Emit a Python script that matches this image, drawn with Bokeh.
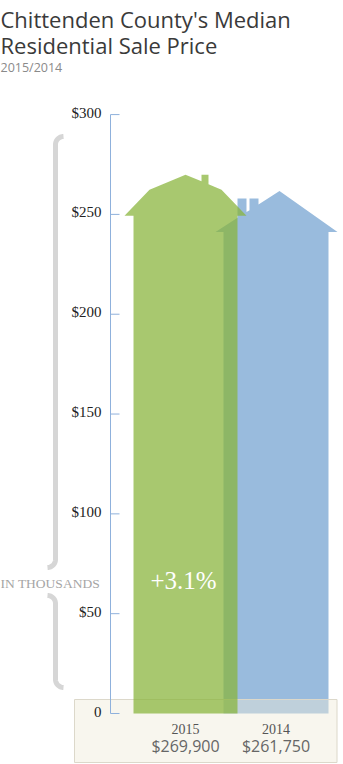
import math
from bokeh.plotting import figure
from bokeh.models import Range1d
from bokeh.core.properties import value
from bokeh.embed import file_html
from bokeh.resources import INLINE

# ---------------- data ----------------
years = ["2015", "2014"]
prices = [269900, 261750]
tick_values = [0, 50, 100, 150, 200, 250, 300]
tick_labels = ["0", "$50", "$100", "$150", "$200", "$250", "$300"]
title_lines = ["Chittenden County's Median", "Residential Sale Price"]
subtitle = "2015/2014"
unit_note = "IN THOUSANDS"

# ---------------- layout ----------------
W, H = 343, 764
Y0, K = 713.0, 1.9964          # pixel y of value 0, pixels per thousand
v_top = Y0 / K
v_bot = (Y0 - H) / K

p = figure(width=W, height=H, x_range=Range1d(0, W), y_range=Range1d(v_bot, v_top),
           output_backend="svg", toolbar_location=None, title=None,
           x_axis_location=None, y_axis_location=None, min_border=0,
           outline_line_color=None, background_fill_color="white",
           border_fill_color="white")
p.extra_y_ranges = {"px": Range1d(H, 0)}
p.xgrid.visible = False
p.ygrid.visible = False

GREEN = "#89B43A"
GREEN_ALPHA = 0.735
BLUE = "#99BBDD"
AXIS = "#8FB1DC"

vals = [v / 1000.0 for v in prices]

# ---- blue house (2014) ----
bP = vals[1]
bcx = 275.5
bpx = 279.0
bE = bP - 41 / K
bT = bP - 7.5 / K
def broof(x):
    return bP - (bpx - x) * (41 / 64) / K
bxs = [215, 237, 237, 246, 246, 249, 249, 258, 258, bpx, 337, 328, 328, 223, 223]
bys = [bE, broof(237), bT, bT, broof(246), broof(249), bT, bT, broof(258), bP, bE, bE, 0, 0, bE]
p.patch(bxs, bys, fill_color=BLUE, line_color=None)

# ---- bottom panel ----
p.quad(left=[74], right=[336.5], top=[699], bottom=[762], y_range_name="px",
       fill_color="#EFEAD8", fill_alpha=0.44, line_color="#DCD8CA", line_width=1)

# ---- green house (2015) ----
gP = vals[0]
gcx = 185.0
gE = gP - 41 / K
gKnee = gP - 15 / K
def groof(dx):
    return gP - dx / 36 * (15 / K)
gxs = [gcx - 61, gcx - 36, gcx, gcx + 16, gcx + 16, gcx + 23, gcx + 23, gcx + 36, gcx + 61,
       gcx + 52, gcx + 52, gcx - 52, gcx - 52]
gys = [gE, gKnee, gP, groof(16), gP, gP, groof(23), gKnee, gE, gE, 0, 0, gE]
p.patch(gxs, gys, fill_color=GREEN, fill_alpha=GREEN_ALPHA, line_color=None)

# ---- axis ----
p.segment(x0=[110], y0=[0], x1=[110], y1=[300], line_color=AXIS, line_width=1)
p.segment(x0=[110] * len(tick_values), y0=tick_values, x1=[119] * len(tick_values),
          y1=tick_values, line_color=AXIS, line_width=1)
p.text(x=[101] * len(tick_values), y=tick_values, text=tick_labels,
       text_font=value("Liberation Serif"), text_font_size="15px", text_color="#222222",
       text_align="right", text_baseline="middle", y_offset=-2)

# ---- brace ----
def arc(cx, cy, r, a0, a1, n=10):
    xs, ys = [], []
    for i in range(n + 1):
        t = math.radians(a0 + (a1 - a0) * i / n)
        xs.append(cx + r * math.cos(t))
        ys.append(cy - r * math.sin(t))
    return xs, ys

r = 8
ax1, ay1 = arc(63, 144, r, 90, 180)
ax2, ay2 = arc(47, 559, r, 0, -90)
up_x = ax1 + ax2
up_y = ay1 + ay2
bx1, by1 = arc(47, 603, r, 90, 0)
bx2, by2 = arc(63, 679, r, 180, 270)
lo_x = bx1 + bx2
lo_y = by1 + by2
p.multi_line([up_x, lo_x], [up_y, lo_y], y_range_name="px", line_color="#D6D6D6",
             line_width=5, line_cap="butt", line_join="round")

p.text(x=[0], y=[583], text=[unit_note], y_range_name="px",
       text_font=value("Liberation Serif"), text_font_size="13.5px", text_color="#A5A5A5",
       text_align="left", text_baseline="middle")

# ---- titles ----
p.text(x=[0, 0], y=[18.5, 44.5], text=title_lines, y_range_name="px",
       text_font=value("Open Sans"), text_font_size="22px", text_color="#3A3A3A",
       text_align="left", text_baseline="alphabetic")
p.text(x=[0], y=[67], text=[subtitle], y_range_name="px",
       text_font=value("Open Sans"), text_font_size="12.5px", text_color="#8A8A8A",
       text_align="left", text_baseline="alphabetic")

# ---- change label ----
change = (prices[0] / prices[1] - 1) * 100
p.text(x=[183], y=[580], text=["+{:.1f}%".format(change)], y_range_name="px",
       text_font=value("Liberation Serif"), text_font_size="25px", text_color="white",
       text_align="center", text_baseline="middle")

# ---- bottom labels ----
centers = [gcx, bcx]
p.text(x=centers, y=[728, 728], text=years, y_range_name="px",
       text_font=value("Liberation Serif"), text_font_size="14px", text_color="#555555",
       text_align="center", text_baseline="middle")
p.text(x=centers, y=[745, 745], text=["${:,}".format(v) for v in prices], y_range_name="px",
       text_font=value("Open Sans"), text_font_size="16px", text_color="#666666",
       text_align="center", text_baseline="middle")

open("out.html", "w").write(file_html(p, INLINE))
